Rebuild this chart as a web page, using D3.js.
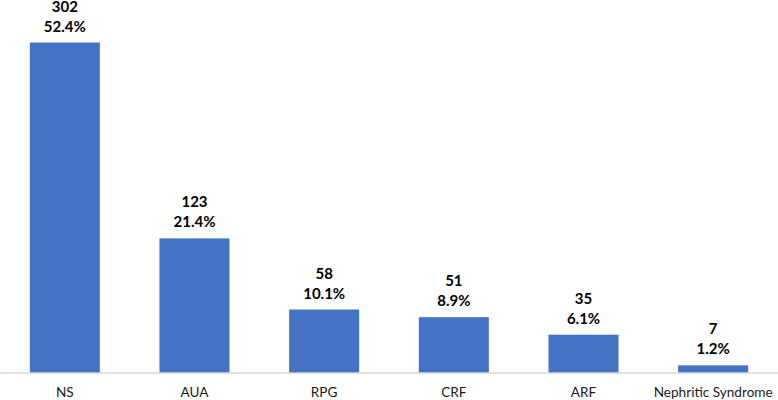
<!DOCTYPE html>
<html><head><meta charset="utf-8">
<script src="https://cdn.jsdelivr.net/npm/d3@7"></script>
<style>body{margin:0;background:#fff}svg{display:block}</style>
</head><body>
<svg id="c" width="778" height="400"></svg>
<script>
const categories = ["NS","AUA","RPG","CRF","ARF","Nephritic Syndrome"];
const counts = [302,123,58,51,35,7];
const percents = ["52.4%","21.4%","10.1%","8.9%","6.1%","1.2%"];

const svg = d3.select("#c");
const W = 778, base = 373;
const x = d3.scaleBand().domain(categories).range([0, W]).paddingInner(0.46).paddingOuter(0.23);
const y = d3.scaleLinear().domain([0, 302]).range([base, 42.5]);
const font = "Lato, 'Open Sans', sans-serif";

svg.selectAll("rect.bar").data(categories).join("rect")
  .attr("class","bar")
  .attr("x", d => x(d))
  .attr("width", x.bandwidth())
  .attr("y", (d,i) => y(counts[i]))
  .attr("height", (d,i) => base - y(counts[i]))
  .attr("fill", "#4472C4");

const xAxis = d3.axisBottom(x).tickSize(0).tickPadding(14);
const g = svg.append("g").attr("transform", `translate(0,${base})`).call(xAxis);
g.select(".domain").attr("stroke", "#d9d9d9").attr("stroke-width", 1.3).attr("d", `M0,0H${W}`);
g.selectAll("text").attr("font-family", font).attr("font-size", 13.6).attr("fill", "#1a1a1a");

const lab = svg.selectAll("g.lab").data(categories).join("g").attr("class","lab")
  .attr("transform", (d,i) => `translate(${x(d) + x.bandwidth()/2},${y(counts[i])})`);
lab.append("text").attr("text-anchor","middle").attr("y", -31)
  .attr("font-family", font).attr("font-weight", "bold").attr("font-size", 15).attr("fill","#000")
  .text((d,i) => counts[i]);
lab.append("text").attr("text-anchor","middle").attr("y", -11)
  .attr("font-family", font).attr("font-weight", "bold").attr("font-size", 15).attr("fill","#000")
  .text((d,i) => percents[i]);
</script>
</body></html>
